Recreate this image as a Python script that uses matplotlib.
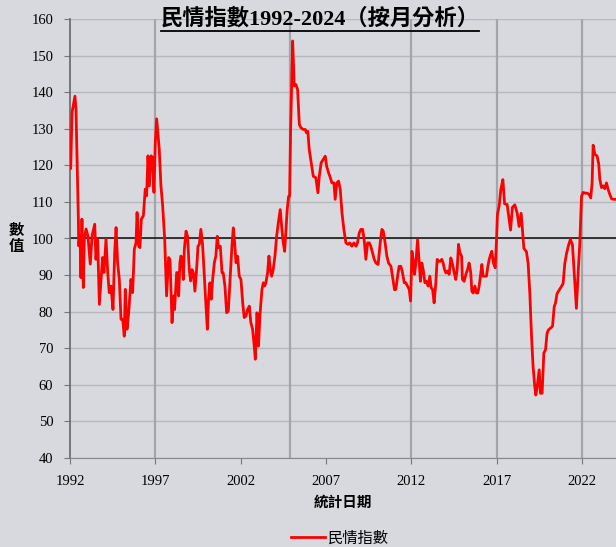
import matplotlib
matplotlib.use('Agg')
import matplotlib.pyplot as plt
from matplotlib.lines import Line2D

plt.rcParams['font.family'] = ['Liberation Serif', 'Noto Sans CJK TC']

# monthly index (decimal year, value)
years = [
    1992.04, 1992.12, 1992.29, 1992.35, 1992.49, 1992.51, 1992.59, 1992.64, 1992.70, 1992.78,
    1992.84, 1992.94, 1993.05, 1993.19, 1993.29, 1993.45, 1993.52, 1993.62, 1993.72, 1993.82,
    1993.91, 1993.99, 1994.11, 1994.21, 1994.30, 1994.40, 1994.52, 1994.62, 1994.70, 1994.79,
    1994.89, 1994.99, 1995.09, 1995.18, 1995.24, 1995.34, 1995.44, 1995.57, 1995.67, 1995.77,
    1995.87, 1995.93, 1996.02, 1996.10, 1996.18, 1996.30, 1996.41, 1996.49, 1996.57, 1996.65,
    1996.75, 1996.84, 1996.92, 1997.00, 1997.08, 1997.23, 1997.33, 1997.43, 1997.55, 1997.66,
    1997.78, 1997.86, 1997.98, 1998.07, 1998.13, 1998.25, 1998.31, 1998.37, 1998.44, 1998.50,
    1998.56, 1998.64, 1998.70, 1998.80, 1998.89, 1998.99, 1999.07, 1999.15, 1999.23, 1999.32,
    1999.42, 1999.50, 1999.58, 1999.67, 1999.77, 1999.87, 1999.97, 2000.05, 2000.12, 2000.20,
    2000.28, 2000.36, 2000.46, 2000.55, 2000.63, 2000.71, 2000.81, 2000.91, 2000.98, 2001.08,
    2001.18, 2001.28, 2001.37, 2001.49, 2001.57, 2001.65, 2001.73, 2001.82, 2001.92, 2002.02,
    2002.12, 2002.21, 2002.31, 2002.41, 2002.51, 2002.60, 2002.70, 2002.78, 2002.86, 2002.96,
    2003.05, 2003.13, 2003.25, 2003.33, 2003.41, 2003.48, 2003.58, 2003.66, 2003.74, 2003.82,
    2003.91, 2004.01, 2004.11, 2004.21, 2004.32, 2004.42, 2004.50, 2004.58, 2004.66, 2004.73,
    2004.81, 2004.87, 2004.93, 2005.05, 2005.14, 2005.24, 2005.34, 2005.44, 2005.53, 2005.67,
    2005.79, 2005.86, 2005.94, 2006.02, 2006.14, 2006.26, 2006.41, 2006.53, 2006.61, 2006.72,
    2006.84, 2006.96, 2007.04, 2007.15, 2007.23, 2007.35, 2007.47, 2007.54, 2007.64, 2007.74,
    2007.84, 2007.94, 2008.05, 2008.17, 2008.29, 2008.40, 2008.52, 2008.64, 2008.76, 2008.85,
    2008.95, 2009.05, 2009.15, 2009.24, 2009.34, 2009.44, 2009.54, 2009.63, 2009.73, 2009.83,
    2009.93, 2010.06, 2010.18, 2010.28, 2010.36, 2010.47, 2010.57, 2010.67, 2010.81, 2010.90,
    2011.02, 2011.10, 2011.20, 2011.29, 2011.39, 2011.49, 2011.59, 2011.68, 2011.78, 2011.88,
    2011.96, 2012.04, 2012.11, 2012.19, 2012.27, 2012.37, 2012.47, 2012.54, 2012.62, 2012.70,
    2012.80, 2012.89, 2012.99, 2013.09, 2013.17, 2013.25, 2013.34, 2013.44, 2013.52, 2013.60,
    2013.70, 2013.79, 2013.87, 2013.95, 2014.03, 2014.13, 2014.22, 2014.32, 2014.42, 2014.52,
    2014.61, 2014.69, 2014.77, 2014.85, 2014.95, 2015.00, 2015.10, 2015.20, 2015.30, 2015.39,
    2015.49, 2015.55, 2015.63, 2015.73, 2015.82, 2015.90, 2015.98, 2016.08, 2016.14, 2016.21,
    2016.31, 2016.41, 2016.49, 2016.57, 2016.65, 2016.72, 2016.82, 2016.92, 2017.00, 2017.05,
    2017.15, 2017.25, 2017.37, 2017.47, 2017.62, 2017.82, 2017.93, 2018.07, 2018.21, 2018.32,
    2018.44, 2018.52, 2018.60, 2018.75, 2018.85, 2018.95, 2019.05, 2019.14, 2019.24, 2019.30,
    2019.38, 2019.50, 2019.57, 2019.67, 2019.77, 2019.87, 2019.96, 2020.04, 2020.16, 2020.28,
    2020.38, 2020.45, 2020.55, 2020.67, 2020.79, 2020.90, 2021.00, 2021.10, 2021.22, 2021.33,
    2021.45, 2021.53, 2021.61, 2021.68, 2021.78, 2021.88, 2021.98, 2022.07, 2022.19, 2022.31,
    2022.43, 2022.52, 2022.60, 2022.66, 2022.76, 2022.89, 2022.99, 2023.05, 2023.15, 2023.25,
    2023.34, 2023.44, 2023.54, 2023.64, 2023.75, 2023.93, 2024.10,
]
index_values = [
    119.2, 134.5, 138.9, 135.4, 105.3, 98.0, 100.7, 89.3, 105.3, 86.6,
    99.8, 102.6, 100.7, 93.0, 100.7, 103.9, 94.3, 99.8, 82.0, 88.8,
    94.8, 90.7, 99.8, 90.7, 85.2, 87.0, 80.6, 96.2, 103.0, 93.4,
    88.8, 77.9, 77.9, 73.3, 86.1, 75.2, 79.7, 88.8, 85.2, 97.1,
    98.9, 107.1, 98.0, 97.5, 105.3, 106.2, 113.5, 111.7, 122.6, 114.4,
    122.6, 122.2, 112.6, 126.3, 132.7, 124.5, 114.4, 109.0, 99.8, 84.3,
    94.8, 94.3, 77.0, 84.3, 80.6, 90.7, 90.6, 84.3, 93.4, 95.2,
    94.7, 88.8, 97.0, 102.0, 100.6, 91.5, 88.4, 91.5, 90.6, 85.6,
    91.5, 97.9, 98.4, 102.5, 98.4, 89.7, 81.5, 75.2, 83.4, 87.9,
    83.4, 88.8, 93.4, 95.2, 100.6, 97.5, 97.9, 90.6, 90.6, 87.0,
    79.7, 80.2, 87.9, 97.9, 102.9, 98.8, 93.4, 95.2, 89.7, 88.8,
    82.5, 78.4, 78.8, 80.6, 81.5, 77.0, 75.2, 71.5, 67.0, 79.7,
    70.6, 78.8, 86.1, 87.9, 87.0, 87.9, 90.6, 95.2, 91.5, 89.7,
    91.5, 95.2, 100.6, 104.3, 107.9, 102.5, 98.8, 96.5, 102.5, 107.9,
    111.5, 111.6, 129.8, 154.0, 141.7, 142.1, 140.7, 131.2, 130.3, 129.8,
    129.8, 128.9, 129.3, 124.3, 120.7, 117.0, 116.6, 112.5, 117.0, 120.7,
    121.6, 122.5, 119.8, 118.0, 117.0, 115.2, 115.2, 110.7, 115.2, 115.7,
    113.4, 107.0, 102.5, 98.8, 98.4, 98.8, 97.9, 98.8, 97.9, 98.8,
    101.5, 102.5, 102.5, 99.7, 94.3, 98.8, 98.8, 97.9, 96.1, 94.3,
    93.3, 92.9, 98.8, 102.5, 102.0, 98.8, 95.2, 93.3, 92.4, 89.7,
    86.0, 86.1, 89.7, 92.4, 92.4, 90.6, 87.9, 87.9, 87.0, 86.1,
    82.9, 96.5, 94.3, 90.2, 93.3, 99.7, 93.3, 88.3, 93.3, 91.5,
    87.9, 88.3, 87.0, 89.7, 86.5, 86.1, 82.4, 87.9, 94.3, 93.8,
    93.8, 94.3, 93.3, 91.5, 90.6, 91.1, 90.2, 94.7, 92.9, 90.6,
    88.8, 91.5, 98.4, 96.1, 95.2, 88.8, 88.3, 90.2, 91.5, 93.3,
    90.6, 85.6, 85.1, 87.0, 85.1, 85.1, 87.0, 90.6, 92.9, 89.7,
    89.7, 89.7, 92.4, 94.3, 95.6, 96.5, 93.3, 92.0, 99.7, 106.6,
    108.8, 113.4, 116.1, 109.5, 109.3, 102.3, 108.5, 109.2, 106.9, 103.3,
    106.9, 102.3, 97.3, 96.4, 93.2, 85.0, 73.2, 65.0, 59.5, 57.2,
    59.5, 64.1, 57.7, 57.7, 68.7, 69.6, 74.1, 75.0, 75.5, 76.0,
    81.4, 82.3, 85.0, 85.9, 86.8, 87.7, 93.2, 95.9, 98.2, 99.8,
    98.2, 92.3, 86.8, 80.9, 90.5, 98.8, 111.5, 112.6, 112.4, 112.4,
    112.0, 111.1, 115.2, 125.5, 123.0, 122.6, 120.3, 116.2, 113.9, 114.4,
    113.6, 115.2, 113.4, 112.0, 110.8, 110.7, 110.7,
]

x_ticks = [1992, 1997, 2002, 2007, 2012, 2017, 2022]
y_ticks = list(range(40, 161, 10))
v_grid_years = [1997, 2004.87, 2012, 2017, 2022]
baseline = 100

bg = '#d8d9de'
fig = plt.figure(figsize=(6.16, 5.47), dpi=100, facecolor=bg)
ax = fig.add_axes([70/616, 1 - 458/547, 546/616, 439/547], facecolor=bg)

for yv in y_ticks:
    ax.axhline(yv, color='#b8b9bd', lw=1.0, zorder=1)
for xv in v_grid_years:
    ax.axvline(xv, color='#a4a5a9', lw=1.6, zorder=1)
ax.axhline(baseline, color='#1a1a1a', lw=1.2, zorder=2)

ax.plot(years, index_values, color='#ff0000', lw=2.0, label='民情指數', zorder=3)

ax.set_xlim(1992, 2024)
ax.set_ylim(40, 160)
ax.set_xticks(x_ticks)
ax.set_yticks(y_ticks)
ax.tick_params(axis='both', labelsize=10.5, colors='#777777', labelcolor='black', length=4)
ax.tick_params(axis='y', pad=8)
ax.tick_params(axis='x', pad=8)

for s in ['top', 'right']:
    ax.spines[s].set_visible(False)
ax.spines['left'].set_color('#666666')
ax.spines['left'].set_linewidth(1.2)
ax.spines['bottom'].set_color('#888888')

ax.set_xlabel('統計日期', fontsize=10.5, fontweight='bold', family=['Noto Sans CJK TC'], labelpad=4)
ax.set_ylabel('數\n值', fontsize=11, fontweight='bold', family=['Noto Sans CJK TC'],
              rotation=0, linespacing=1.0, va='center', ha='center')
ax.yaxis.set_label_coords(-0.098, 0.5)

title = fig.text(320/616, 1 - 19/547, '民情指數1992-2024（按月分析）', fontsize=16,
                 fontweight='bold', ha='center', va='center')

fig.legend(loc='center', bbox_to_anchor=(340/616, 9/547), frameon=False,
           handlelength=2.2, handletextpad=0.2, borderpad=0.1,
           prop={'family': ['Noto Sans CJK TC'], 'size': 11})

# underline under title
fig.canvas.draw()
bb = title.get_window_extent()
W, H = fig.bbox.width, fig.bbox.height
uy = (bb.y0 - 1) / H
fig.add_artist(Line2D([bb.x0 / W, bb.x1 / W], [uy, uy], color='black', lw=1.3))

fig.savefig('out.png', dpi=100, facecolor=bg)
